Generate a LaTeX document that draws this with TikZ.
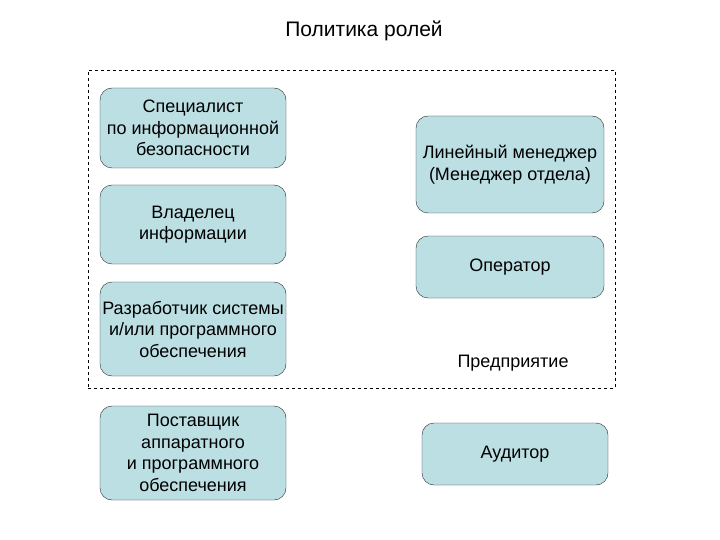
\documentclass[tikz,border=0pt]{standalone}
\usepackage{fontspec}
\setmainfont{Liberation Sans}
\definecolor{roleTeal}{RGB}{188,223,227}
\definecolor{roleEdge}{RGB}{40,40,40}
\usetikzlibrary{positioning}

\begin{document}
\begin{tikzpicture}[x=1pt, y=-1pt,
        every node/.append style={font=\fontsize{18}{21.5}\selectfont},
        rolebox/.style={draw=roleEdge, fill=roleTeal, rounded corners=12pt,
          align=center, inner sep=1pt}
      ]
        \useasboundingbox (0,0) rectangle (720,540);
        % Title
        \node[font=\fontsize{21}{25}\selectfont] (title) at (364,31) {Политика ролей};
        % Enterprise frame
        \node[draw, dashed, minimum width=527pt, minimum height=318pt,
              inner sep=0pt] (firm) at (351.5,229) {};
        \node (firmlbl) at (513,363) {Предприятие};
        % Left column
        \node[rolebox, minimum width=186pt, minimum height=80pt]
          (sec) at (193,128) {Специалист\\по информационной\\безопасности};
        \node[rolebox, minimum width=186pt, minimum height=79pt]
          (owner) at (193,224.5) {Владелец\\информации};
        \node[rolebox, minimum width=186pt, minimum height=94pt]
          (dev) at (193,329) {Разработчик системы\\и/или программного\\обеспечения};
        \node[rolebox, minimum width=186pt, minimum height=94pt]
          (vendor) at (193,453) {Поставщик\\аппаратного\\и программного\\обеспечения};
        % Right column
        \node[rolebox, minimum width=188pt, minimum height=97pt]
          (mgr) at (510,164.5) {Линейный менеджер\\(Менеджер отдела)};
        \node[rolebox, minimum width=188pt, minimum height=62pt]
          (oper) at (510,267) {Оператор};
        \node[rolebox, minimum width=186pt, minimum height=62pt]
          (audit) at (515,454) {Аудитор};
      \end{tikzpicture}
\end{document}
